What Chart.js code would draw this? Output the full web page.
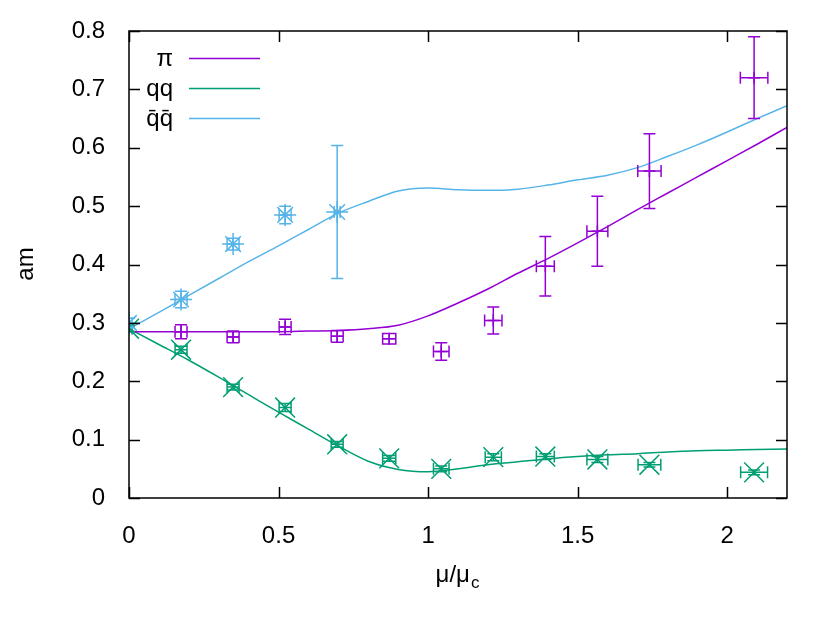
<!doctype html>
<html>
<head>
<meta charset="utf-8">
<title>am vs mu/mu_c</title>
<script src="https://cdn.jsdelivr.net/npm/chart.js@4.4.1/dist/chart.umd.min.js"></script>
<style>
  html, body { margin: 0; padding: 0; background: #ffffff; }
  #wrap { width: 830px; height: 623px; position: relative; }
</style>
</head>
<body>
<div id="wrap"><canvas id="chart" width="830" height="623"></canvas></div>
<script>
  // Lattice points, mu/mu_c
  const piX = [0.174, 0.348, 0.522, 0.696, 0.87, 1.044, 1.218, 1.392, 1.566, 1.74, 2.09];
  const piY = [0.285, 0.276, 0.293, 0.277, 0.273, 0.251, 0.304, 0.397, 0.457, 0.56, 0.72];
  const piYErr = [0.012, 0.01, 0.013, 0.01, 0.009, 0.015, 0.023, 0.051, 0.06, 0.064, 0.07];
  const piXErr = [0.02, 0.02, 0.02, 0.02, 0.022, 0.026, 0.029, 0.03, 0.035, 0.039, 0.046];

  const qqX = [0, 0.174, 0.348, 0.522, 0.696, 0.87, 1.044, 1.218, 1.392, 1.566, 1.74, 2.09];
  const qqY = [0.29, 0.254, 0.19, 0.155, 0.092, 0.068, 0.05, 0.07, 0.071, 0.066, 0.057, 0.044];
  const qqYErr = [0.005, 0.006, 0.005, 0.007, 0.005, 0.005, 0.005, 0.006, 0.005, 0.005, 0.004, 0.004];
  const qqXErr = [0.01, 0.02, 0.02, 0.02, 0.02, 0.022, 0.026, 0.027, 0.03, 0.035, 0.038, 0.045];

  const qbX = [0, 0.174, 0.348, 0.522, 0.696];
  const qbY = [0.30, 0.34, 0.435, 0.485, 0.49];
  const qbYErr = [0.008, 0.014, 0.01, 0.015, 0.114];
  const qbXErr = [0.01, 0.02, 0.02, 0.02, 0.01];

  // Fitted curves
  const curveX = [0, 0.1, 0.2, 0.3, 0.4, 0.5, 0.6, 0.7, 0.8, 0.9, 1.0, 1.1, 1.2, 1.3, 1.4, 1.5, 1.6, 1.7, 1.8, 1.9, 2.0, 2.1, 2.2];
  const piCurve = [0.285, 0.285, 0.285, 0.285, 0.285, 0.285, 0.286, 0.287, 0.29, 0.296, 0.312, 0.334, 0.358, 0.385, 0.41, 0.437, 0.465, 0.494, 0.522, 0.55, 0.578, 0.606, 0.635];
  const qqCurve = [0.29, 0.263, 0.236, 0.207, 0.177, 0.147, 0.118, 0.089, 0.063, 0.049, 0.045, 0.05, 0.057, 0.062, 0.067, 0.071, 0.074, 0.076, 0.079, 0.081, 0.082, 0.083, 0.084];
  const qbCurve = [0.29, 0.318, 0.347, 0.376, 0.405, 0.432, 0.46, 0.488, 0.508, 0.526, 0.531, 0.528, 0.527, 0.529, 0.536, 0.545, 0.553, 0.566, 0.585, 0.605, 0.627, 0.65, 0.672];

  const xTicks = [0, 0.5, 1, 1.5, 2];
  const yTicks = [0, 0.1, 0.2, 0.3, 0.4, 0.5, 0.6, 0.7, 0.8];
  const legendLabels = ['\u03c0', 'qq', 'q\u0304q\u0304'];

  const PURPLE = '#9400d3';
  const GREEN = '#009e73';
  const BLUE = '#56b4e9';
  const FONT = '"Liberation Sans", Arial, sans-serif';
  const FS = 24;

  const pts = (xs, ys) => xs.map((x, i) => ({ x, y: ys[i] }));

  function curveSet(ys, color) {
    return {
      type: 'line', data: pts(curveX, ys), borderColor: color, borderWidth: 1.5,
      pointRadius: 0, cubicInterpolationMode: 'monotone', fill: false, order: 2
    };
  }
  function pointSet(xs, ys, xErr, yErr, color, style, r) {
    return {
      type: 'scatter', data: pts(xs, ys), borderColor: color, backgroundColor: color,
      pointStyle: style, pointRadius: r, pointBorderWidth: 1.5, showLine: false,
      xErr, yErr, order: 1
    };
  }

  // gnuplot-ish frame, inward ticks, error bars, legend and axis titles
  const gnuplotDecor = {
    id: 'gnuplotDecor',
    afterDatasetsDraw(chart) {
      const { ctx, chartArea: a, scales: { x, y } } = chart;
      ctx.save();
      ctx.beginPath();
      ctx.rect(a.left, a.top, a.right - a.left, a.bottom - a.top);
      ctx.clip();
      chart.data.datasets.forEach(ds => {
        if (!ds.xErr) return;
        ctx.strokeStyle = ds.borderColor;
        ctx.lineWidth = 1.5;
        const cap = 6;
        ds.data.forEach((p, i) => {
          const px = x.getPixelForValue(p.x), py = y.getPixelForValue(p.y);
          const x0 = x.getPixelForValue(p.x - ds.xErr[i]), x1 = x.getPixelForValue(p.x + ds.xErr[i]);
          const y0 = y.getPixelForValue(p.y - ds.yErr[i]), y1 = y.getPixelForValue(p.y + ds.yErr[i]);
          ctx.beginPath();
          ctx.moveTo(px, y0); ctx.lineTo(px, y1);
          ctx.moveTo(px - cap, y0); ctx.lineTo(px + cap, y0);
          ctx.moveTo(px - cap, y1); ctx.lineTo(px + cap, y1);
          ctx.moveTo(x0, py); ctx.lineTo(x1, py);
          ctx.moveTo(x0, py - cap); ctx.lineTo(x0, py + cap);
          ctx.moveTo(x1, py - cap); ctx.lineTo(x1, py + cap);
          ctx.stroke();
        });
      });
      ctx.restore();

      ctx.save();
      ctx.strokeStyle = '#000';
      ctx.lineWidth = 1.5;
      const tl = 11;
      ctx.beginPath();
      xTicks.forEach(v => {
        const px = Math.round(x.getPixelForValue(v)) + 0.5;
        ctx.moveTo(px, a.bottom); ctx.lineTo(px, a.bottom - tl);
        ctx.moveTo(px, a.top); ctx.lineTo(px, a.top + tl);
      });
      yTicks.forEach(v => {
        const py = Math.round(y.getPixelForValue(v)) + 0.5;
        ctx.moveTo(a.left, py); ctx.lineTo(a.left + tl, py);
        ctx.moveTo(a.right, py); ctx.lineTo(a.right - tl, py);
      });
      ctx.stroke();
      ctx.strokeRect(a.left, a.top, a.right - a.left, a.bottom - a.top);

      // legend
      const colors = [PURPLE, GREEN, BLUE];
      ctx.font = FS + 'px ' + FONT;
      ctx.textAlign = 'right';
      ctx.textBaseline = 'middle';
      legendLabels.forEach((lab, i) => {
        const ly = 58 + i * 30;
        ctx.fillStyle = '#000';
        ctx.fillText(lab, 173, ly + 1);
        ctx.strokeStyle = colors[i];
        ctx.lineWidth = 1.5;
        ctx.beginPath();
        ctx.moveTo(189, ly + 0.5); ctx.lineTo(260, ly + 0.5);
        ctx.stroke();
      });

      // axis titles
      ctx.fillStyle = '#000';
      ctx.textAlign = 'center';
      ctx.save();
      ctx.translate(26, 264);
      ctx.rotate(-Math.PI / 2);
      ctx.fillText('am', 0, 0);
      ctx.restore();
      ctx.textAlign = 'left';
      const main = '\u03bc/\u03bc';
      const w = ctx.measureText(main).width;
      ctx.font = '17px ' + FONT;
      const ws = ctx.measureText('c').width;
      const sx = 457 - (w + ws) / 2;
      ctx.font = FS + 'px ' + FONT;
      ctx.fillText(main, sx, 575);
      ctx.font = '17px ' + FONT;
      ctx.fillText('c', sx + w + 1, 583);
      ctx.restore();
    }
  };

  new Chart(document.getElementById('chart'), {
    data: {
      datasets: [
        curveSet(piCurve, PURPLE),
        curveSet(qqCurve, GREEN),
        curveSet(qbCurve, BLUE),
        pointSet(piX, piY, piXErr, piYErr, PURPLE, 'cross', 6),
        pointSet(qqX, qqY, qqXErr, qqYErr, GREEN, 'crossRot', 14),
        pointSet(qbX, qbY, qbXErr, qbYErr, BLUE, 'star', 11)
      ]
    },
    options: {
      responsive: false,
      animation: false,
      layout: { padding: { top: 31, right: 43, left: 0, bottom: 0 } },
      plugins: { legend: { display: false }, tooltip: { enabled: false } },
      scales: {
        x: {
          type: 'linear', min: 0, max: 2.2,
          afterBuildTicks: s => { s.ticks = xTicks.map(v => ({ value: v })); },
          afterFit: s => { s.height = 125; },
          grid: { display: false }, border: { display: false },
          ticks: { color: '#000', font: { family: FONT, size: FS }, padding: 16, maxRotation: 0, callback: v => String(v) }
        },
        y: {
          type: 'linear', min: 0, max: 0.8,
          afterBuildTicks: s => { s.ticks = yTicks.map(v => ({ value: v })); },
          afterFit: s => { s.width = 129; },
          grid: { display: false }, border: { display: false },
          ticks: { color: '#000', font: { family: FONT, size: FS }, padding: 16, callback: v => String(v) }
        }
      }
    },
    plugins: [gnuplotDecor]
  });
</script>
</body>
</html>
